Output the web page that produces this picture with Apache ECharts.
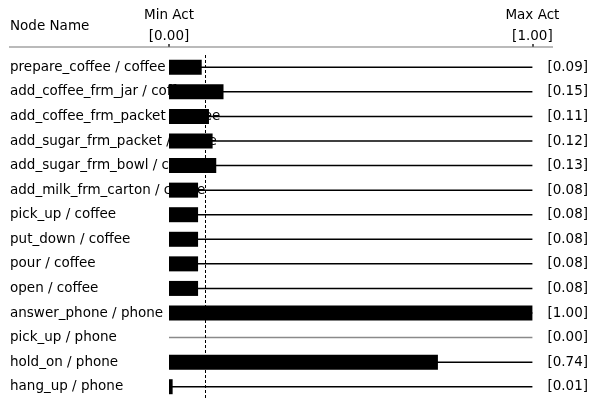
<!DOCTYPE html>
<html>
<head>
<meta charset="utf-8">
<script src="https://cdn.jsdelivr.net/npm/echarts@6/dist/echarts.min.js"></script>
<style>html,body{margin:0;padding:0;background:#fff;}#c{width:591px;height:400px;}</style>
</head>
<body>
<div id="c"></div>
<script>
var nodeNames = [
  'prepare_coffee / coffee',
  'add_coffee_frm_jar / coffee',
  'add_coffee_frm_packet / coffee',
  'add_sugar_frm_packet / coffee',
  'add_sugar_frm_bowl / coffee',
  'add_milk_frm_carton / coffee',
  'pick_up / coffee',
  'put_down / coffee',
  'pour / coffee',
  'open / coffee',
  'answer_phone / phone',
  'pick_up / phone',
  'hold_on / phone',
  'hang_up / phone'
];
var activations = [0.09, 0.15, 0.11, 0.12, 0.13, 0.08, 0.08, 0.08, 0.08, 0.08, 1.00, 0.00, 0.74, 0.01];
var minAct = 0.00;
var maxAct = 1.00;
var threshold = 0.10;
var headerLabels = ['Min Act', 'Max Act'];

var FONT = 'DejaVu Sans';
var FS = 13.5;
var chart = echarts.init(document.getElementById('c'), null, {renderer: 'canvas'});

var valueLabels = activations.map(function (v) { return '[' + v.toFixed(2) + ']'; });
var stems = activations.map(function (v) {
  return {value: maxAct, itemStyle: {color: v === 0 ? '#8a8a8a' : '#000'}};
});
var hiddenCat = {
  type: 'category', inverse: true, show: false
};

chart.setOption({
  animation: false,
  backgroundColor: '#fff',
  title: {
    text: 'Node Name', left: 10, top: 19, padding: 0,
    textStyle: {fontFamily: FONT, fontSize: FS, fontWeight: 'normal', color: '#000'}
  },
  grid: {left: 169, right: 58, top: 55, bottom: 1, containLabel: false},
  xAxis: {
    type: 'value', position: 'top', min: minAct, max: maxAct, interval: maxAct - minAct, offset: 8,
    axisLine: {show: false},
    axisTick: {show: true, length: 3, lineStyle: {color: '#222', width: 1.5}},
    splitLine: {show: false},
    axisLabel: {
      margin: 0, lineHeight: 21, fontFamily: FONT, fontSize: FS, color: '#000',
      formatter: function (v) {
        return v === minAct ? headerLabels[0] + '\n[' + minAct.toFixed(2) + ']'
                            : headerLabels[1] + '\n[' + maxAct.toFixed(2) + ']';
      }
    }
  },
  yAxis: [{
    type: 'category', data: nodeNames, inverse: true, position: 'left',
    axisLine: {show: false}, axisTick: {show: false}, splitLine: {show: false},
    axisLabel: {align: 'left', margin: 159, fontFamily: FONT, fontSize: FS, color: '#000'}
  }, {
    type: 'category', data: valueLabels, inverse: true, position: 'right',
    axisLine: {show: false}, axisTick: {show: false}, splitLine: {show: false},
    axisLabel: {align: 'left', margin: 15, fontFamily: FONT, fontSize: FS, color: '#000'}
  }, {
    type: 'category', data: nodeNames, inverse: true, show: false
  }],
  graphic: [{
    type: 'line', shape: {x1: 9, y1: 47, x2: 553, y2: 47},
    style: {stroke: '#777', lineWidth: 1.2}, z: 1
  }],
  series: [{
    type: 'bar', name: 'stem', data: stems, barWidth: 1.5, yAxisIndex: 2, z: 2,
    silent: true
  }, {
    type: 'bar', name: 'activation', data: activations, barWidth: 15, yAxisIndex: 0, z: 3,
    itemStyle: {color: '#000'},
    markLine: {
      silent: true, symbol: 'none', label: {show: false},
      lineStyle: {color: '#000', type: [3, 2], width: 1},
      data: [{xAxis: threshold}]
    }
  }]
});
</script>
</body>
</html>
